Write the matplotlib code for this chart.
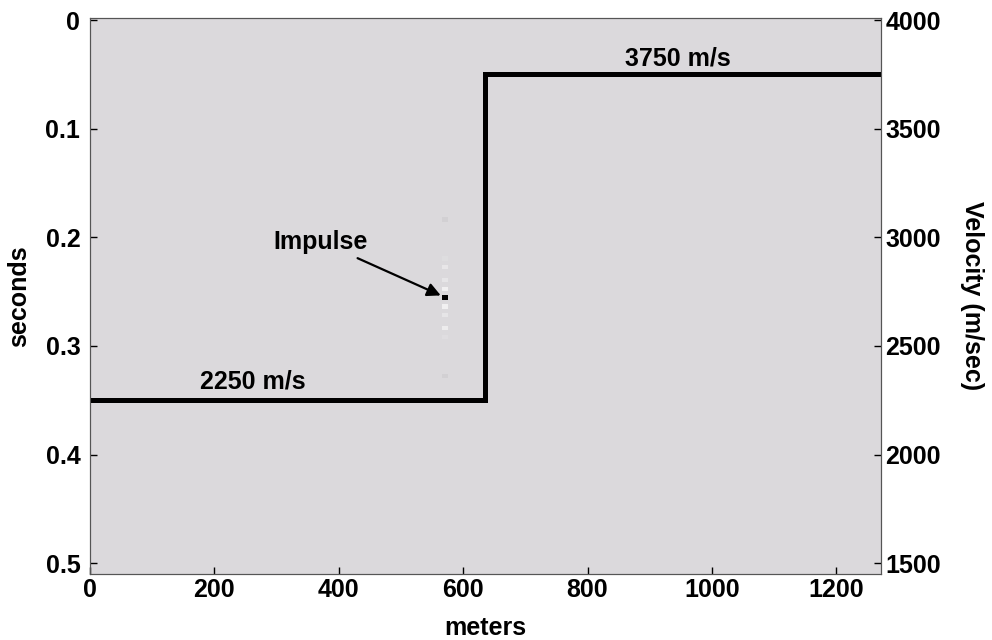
import numpy as np
import matplotlib.pyplot as plt
from matplotlib.colors import LinearSegmentedColormap

plt.rcParams['font.family'] = ['Liberation Sans', 'DejaVu Sans']
plt.rcParams['font.weight'] = 'bold'

# model grid: 128 traces x 128 samples
dx = 10.0
dt = 0.004
nx, nt = 128, 128

# impulse trace (column) and the samples with nonzero amplitude
imp_col = 57
spike_rows = [46, 55, 57, 60, 62, 64, 66, 68, 71, 73, 82]
spike_vals = [0.04, -0.08, -0.35, -0.3, -0.6, 1.0, -0.6, -0.3, -0.5, -0.1, 0.04]

# step velocity model
step_x = [0, 635, 635, 1280]
step_v = [2250, 2250, 3750, 3750]
vel_labels = ['2250 m/s', '3750 m/s']
vel_label_x = [262, 946]

xticks = [0, 200, 400, 600, 800, 1000, 1200]
tticks = [0, 0.1, 0.2, 0.3, 0.4, 0.5]
vticks = [1500, 2000, 2500, 3000, 3500, 4000]

FS = 18

img = np.zeros((nt, nx))
for r, v in zip(spike_rows, spike_vals):
    img[r, imp_col] = v

cmap = LinearSegmentedColormap.from_list('seis', ['white', '#dcdadd', 'black'])

fig = plt.figure(figsize=(9.92, 6.4), dpi=100)
ax = fig.add_axes([0.0907, 0.103, 0.7975, 0.869])
ax.imshow(img, cmap=cmap, vmin=-1, vmax=1, aspect='auto', interpolation='nearest',
          extent=(-dx / 2, (nx - 0.5) * dx, (nt - 0.5) * dt, -dt / 2))
ax.set_xlim(0, 1272)
ax.set_ylim(0.510, -0.002)
ax.set_xticks(xticks)
ax.set_yticks(tticks)
ax.set_yticklabels(['0', '0.1', '0.2', '0.3', '0.4', '0.5'])
ax.tick_params(direction='in', length=5, labelsize=FS, colors='black', width=1, pad=3)
ax.tick_params(axis='y', pad=7)
ax.set_xlabel('meters', fontsize=FS, fontweight='bold', labelpad=10)
ax.set_ylabel('seconds', fontsize=FS, fontweight='bold', labelpad=10)
for s in ax.spines.values():
    s.set_color('#555555')

ax.annotate('Impulse', xy=(imp_col * dx - 4, 0.254), xytext=(447, 0.204),
            fontsize=FS, fontweight='bold', ha='right', va='center',
            arrowprops=dict(arrowstyle='-|>', color='black', lw=1.6, mutation_scale=20,
                            shrinkA=3, shrinkB=1))

ax2 = ax.twinx()
ax2.plot(step_x, step_v, color='black', lw=3.6, solid_joinstyle='miter')
ax2.set_ylim(1450, 4010)
ax2.set_yticks(vticks)
ax2.tick_params(direction='in', length=5, labelsize=FS, width=1, pad=3)
ax2.set_ylabel('Velocity (m/sec)', fontsize=FS, fontweight='bold', rotation=270, labelpad=31)
for s in ax2.spines.values():
    s.set_color('#555555')

for lab, x, v, off in zip(vel_labels, vel_label_x, step_v[::2], [30, 20]):
    ax2.text(x, v + off, lab, fontsize=FS, fontweight='bold', ha='center', va='bottom')

fig.savefig('out.png', dpi=100, facecolor='white')
